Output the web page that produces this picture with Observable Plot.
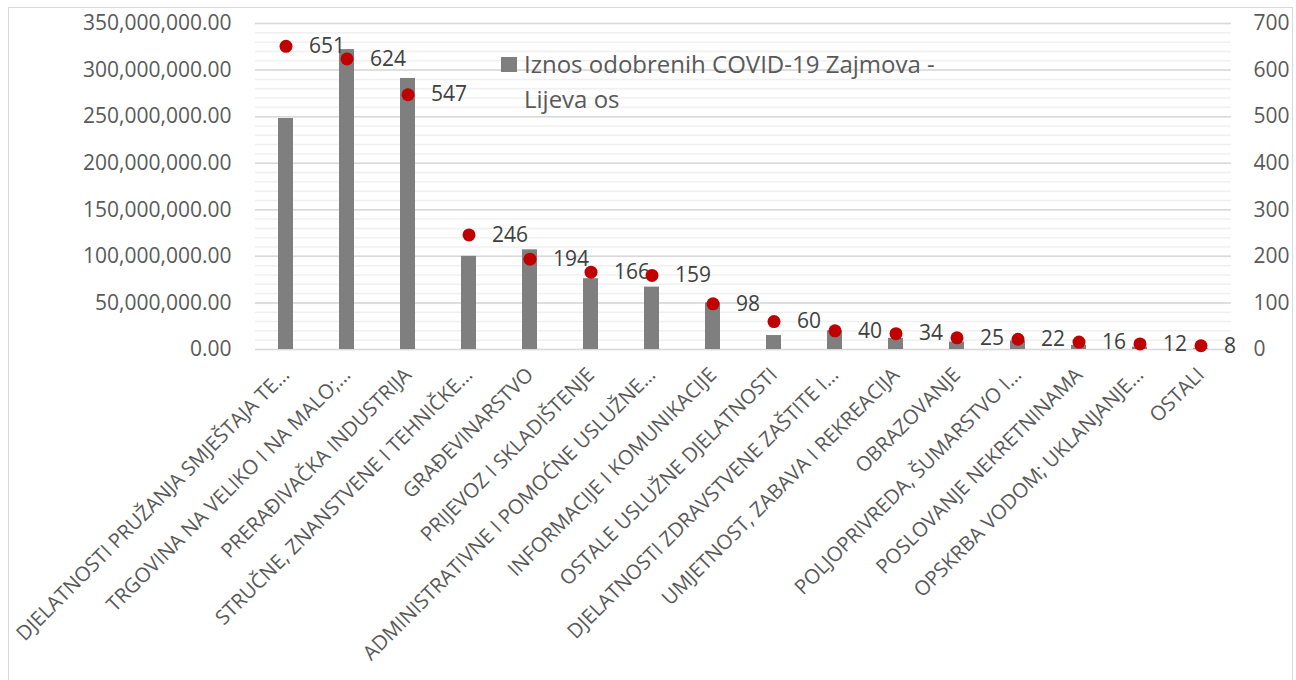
<!DOCTYPE html>
<html>
<head>
<meta charset="utf-8">
<script src="https://cdn.jsdelivr.net/npm/d3@7"></script>
<script src="https://cdn.jsdelivr.net/npm/@observablehq/plot@0.6"></script>
<style>
  html, body { margin: 0; padding: 0; background: #fff; }
  body { font-family: "Open Sans", sans-serif; }
  #wrap { position: relative; width: 1296px; height: 680px; overflow: hidden; }
  #chart { position: absolute; left: 0; top: 0; }
  #frame { position: absolute; left: 8px; top: 7px; width: 1285px; height: 690px; border: 1px solid #d9d9d9; box-sizing: border-box; pointer-events: none; z-index: 2; }
  #legend { position: absolute; left: 501px; top: 46px; z-index: 3; display: flex; align-items: flex-start; }
  #legend .sw { width: 16px; height: 15px; background: #7f7f7f; margin-top: 11px; margin-right: 7px; flex: none; }
  #legend .tx { width: 450px; font-size: 24px; line-height: 35px; color: #595959; }
</style>
</head>
<body>
<div id="wrap">
  <div id="chart"></div>
  <div id="frame"></div>
  <div id="legend"><div class="sw"></div><div class="tx" id="legendText"></div></div>
</div>
<script>
const categories = [
  "DJELATNOSTI PRUŽANJA SMJEŠTAJA TE…",
  "TRGOVINA NA VELIKO I NA MALO;…",
  "PRERAĐIVAČKA INDUSTRIJA",
  "STRUČNE, ZNANSTVENE I TEHNIČKE…",
  "GRAĐEVINARSTVO",
  "PRIJEVOZ I SKLADIŠTENJE",
  "ADMINISTRATIVNE I POMOĆNE USLUŽNE…",
  "INFORMACIJE I KOMUNIKACIJE",
  "OSTALE USLUŽNE DJELATNOSTI",
  "DJELATNOSTI ZDRAVSTVENE ZAŠTITE I…",
  "UMJETNOST, ZABAVA I REKREACIJA",
  "OBRAZOVANJE",
  "POLJOPRIVREDA, ŠUMARSTVO I…",
  "POSLOVANJE NEKRETNINAMA",
  "OPSKRBA VODOM; UKLANJANJE…",
  "OSTALI"
];
// Iznos odobrenih COVID-19 zajmova (lijeva os)
const amounts = [248e6, 322e6, 291e6, 100e6, 107e6, 76e6, 67e6, 50e6, 15e6, 20e6, 12e6, 8e6, 9e6, 4.5e6, 2.5e6, 0.8e6];
// Broj zajmova (desna os)
const counts = [651, 624, 547, 246, 194, 166, 159, 98, 60, 40, 34, 25, 22, 16, 12, 8];
const leftTicks = [0, 50e6, 100e6, 150e6, 200e6, 250e6, 300e6, 350e6];
const rightTicks = [0, 100, 200, 300, 400, 500, 600, 700];
const legendLabel = "Iznos odobrenih COVID-19 Zajmova - Lijeva os";

const leftMax = 350e6, rightMax = 700;
const ratio = leftMax / rightMax;
const minorTicks = d3.range(0, leftMax + 1, 10e6);

const data = categories.map((c, i) => ({cat: c, amount: amounts[i], count: counts[i]}));

document.getElementById("legendText").textContent = legendLabel;

const fmt = d3.format(",.2f");

const plot = Plot.plot({
  width: 1296,
  height: 680,
  marginLeft: 255,
  marginRight: 65,
  marginTop: 23,
  marginBottom: 331,
  style: {fontFamily: "Open Sans, sans-serif", fontSize: "21px", color: "#595959", background: "transparent"},
  x: {domain: categories, paddingInner: 0.75, paddingOuter: 0.375, label: null},
  y: {domain: [0, leftMax], label: null},
  marks: [
    Plot.gridY(minorTicks, {stroke: "#f0f0f0", strokeOpacity: 1, strokeWidth: 1.5}),
    Plot.gridY(leftTicks, {stroke: "#d9d9d9", strokeOpacity: 1, strokeWidth: 1.5}),
    Plot.barY(data, {x: "cat", y: "amount", fill: "#7f7f7f"}),
    Plot.text(data, {x: "cat", y: d => d.count * ratio, text: d => String(d.count), textAnchor: "start", dx: 23, fill: "#404040", fontSize: 21}),
    Plot.dot(data, {x: "cat", y: d => d.count * ratio, r: 6.5, fill: "#c00000", stroke: "none"}),
    Plot.axisY(leftTicks, {anchor: "left", tickSize: 0, tickPadding: 24, tickFormat: d => fmt(d), fontSize: 21}),
    Plot.axisY(rightTicks.map(v => v * ratio), {anchor: "right", tickSize: 0, tickPadding: 22, tickFormat: d => String(Math.round(d / ratio)), fontSize: 21}),
    Plot.axisX({tickRotate: -45, tickSize: 0, tickPadding: 22, dx: 0, fontSize: 20.3})
  ]
});
document.getElementById("chart").appendChild(plot);
</script>
</body>
</html>
